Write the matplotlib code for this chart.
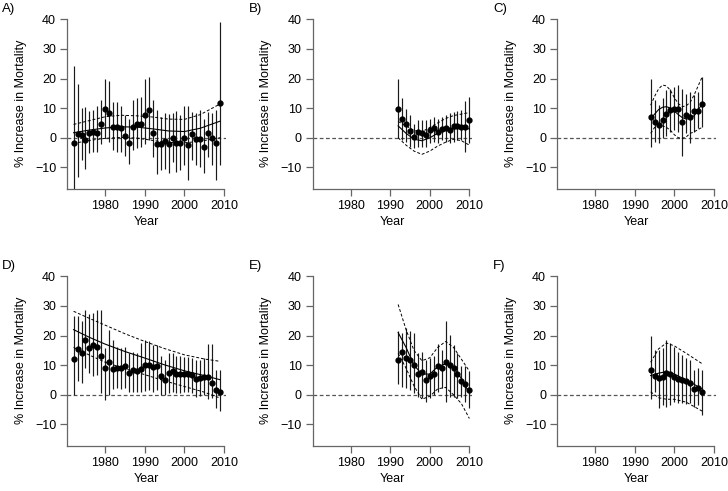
import matplotlib
matplotlib.use("Agg")
import matplotlib.pyplot as plt
import numpy as np

plt.rcParams['font.family'] = ['Liberation Sans', 'DejaVu Sans']

# ---- data ----
years_A = list(range(1972, 2010))
est_A = [-1.9, 1.1, 1.0, -0.8, 1.7, 2.0, 1.5, 4.8, 9.8, 8.4, 3.5, 3.6, 3.2, 0.6, -1.9, 3.8, 4.5, 4.5, 7.7, 9.5,
         1.7, -2.1, -2.1, -1.2, -2.0, 0.0, -1.9, -1.9, 0.0, -2.5, 1.1, -0.5, -0.5, -3.0, 1.6, 0.0, -1.9, 11.9]
hi_A = [24.2, 18.1, 9.9, 10.5, 9.0, 9.3, 10.7, 12.7, 19.7, 19.3, 12.2, 12.2, 10.7, 7.7, 6.5, 12.7, 13.3, 13.9, 19.7, 20.6,
        12.7, 9.3, 7.1, 8.4, 8.0, 8.2, 9.1, 7.7, 10.7, 10.7, 8.8, 8.2, 9.5, 6.5, 8.8, 8.2, 9.3, 39.0]
lo_A = [-20.0, -13.2, -7.5, -10.4, -5.0, -4.7, -4.7, -2.1, -0.2, -1.4, -4.2, -4.7, -4.7, -6.1, -8.7, -4.2, -3.6, -3.0, -2.1, -0.8,
        -6.4, -12.4, -10.9, -10.7, -12.0, -8.1, -11.4, -10.9, -9.2, -14.1, -7.5, -9.2, -9.8, -12.0, -6.4, -9.2, -14.3, -9.2]
fit_yr_A = [1972, 1976, 1980, 1984, 1988, 1992, 1996, 2000, 2004, 2009]
fit_A = [1.7, 2.6, 3.3, 3.7, 3.6, 3.0, 2.3, 2.1, 3.2, 5.6]
fit_hi_A = [4.5, 5.8, 7.1, 7.6, 7.4, 7.0, 6.3, 6.2, 7.8, 11.4]
fit_lo_A = [-1.9, -0.9, -0.2, 0.1, -0.1, -0.9, -1.6, -1.7, -1.2, 0.0]

years_B = list(range(1992, 2011))
est_B = [9.6, 6.5, 4.6, 2.3, 0.3, 1.8, 1.7, 0.8, 2.6, 3.2, 1.8, 3.0, 3.4, 2.7, 4.1, 4.1, 3.7, 3.8, 5.9]
hi_B = [19.8, 13.3, 9.6, 7.7, 4.8, 6.0, 6.0, 6.0, 6.5, 7.1, 6.5, 7.1, 7.7, 8.4, 8.8, 9.0, 9.3, 12.4, 13.9]
lo_B = [0.0, -0.8, -1.4, -3.0, -3.6, -3.0, -3.0, -3.0, -1.9, -1.4, -1.9, -0.8, -1.4, -1.9, -1.4, -0.8, -0.6, -4.7, -1.9]
fit_yr_B = [1992, 1994, 1996, 1998, 2000, 2002, 2004, 2006, 2008, 2010]
fit_B = [4.0, 1.5, -0.5, -1.0, 0.0, 1.5, 2.5, 3.0, 3.3, 3.0]
fit_hi_B = [5.5, 4.0, 2.5, 2.0, 3.5, 5.0, 6.5, 7.5, 8.0, 8.5]
fit_lo_B = [0.0, -2.5, -4.5, -5.6, -4.5, -2.8, -1.5, -0.5, -1.0, -2.5]

years_C = list(range(1994, 2008))
est_C = [7.0, 5.4, 4.4, 6.0, 7.9, 9.3, 9.8, 9.8, 5.2, 7.7, 6.9, 9.0, 9.1, 11.3]
hi_C = [20.0, 12.9, 11.0, 13.3, 16.1, 16.3, 17.0, 17.8, 16.3, 14.8, 15.5, 14.4, 15.5, 20.6]
lo_C = [-3.0, -1.4, -1.9, -0.2, 0.6, 2.0, 2.6, 2.0, -6.2, 1.5, -1.9, 2.0, 3.2, 3.7]
fit_yr_C = years_C
fit_C = [6.5, 8.0, 9.5, 10.3, 10.5, 10.0, 9.0, 7.8, 6.8, 6.3, 6.5, 7.5, 9.3, 11.5]
fit_hi_C = [11.0, 14.0, 16.5, 17.8, 17.5, 16.0, 13.5, 11.5, 10.5, 10.8, 12.0, 14.5, 17.5, 20.5]
fit_lo_C = [1.5, 3.5, 4.0, 4.0, 3.5, 2.5, 1.0, 0.0, -0.2, 0.3, 1.5, 2.0, 2.8, 3.5]

years_D = list(range(1972, 2010))
est_D = [12.2, 15.4, 14.1, 18.6, 15.7, 16.7, 16.3, 13.0, 9.0, 11.0, 8.8, 9.0, 9.0, 9.6, 7.5, 8.5, 7.9, 8.8, 10.1, 9.9,
         9.4, 9.8, 6.5, 5.1, 7.3, 7.9, 7.0, 7.0, 7.0, 7.0, 6.8, 5.4, 5.6, 5.9, 6.1, 3.9, 1.7, 1.1]
hi_D = [26.5, 26.5, 24.8, 28.5, 27.3, 27.6, 28.7, 28.7, 15.8, 22.0, 18.6, 16.3, 15.8, 16.3, 14.1, 14.6, 14.1, 17.5, 18.6, 18.0,
        16.9, 16.9, 13.0, 11.8, 14.1, 14.1, 13.0, 13.0, 12.6, 12.6, 12.4, 11.8, 11.8, 12.4, 17.1, 17.1, 8.5, 8.5]
lo_D = [0.0, 4.5, 3.9, 9.0, 7.3, 6.2, 6.8, 0.6, -1.7, 0.0, 2.0, 2.3, 2.0, 2.3, 1.1, 1.1, 0.9, 1.1, 1.4, 1.7,
        1.1, 1.7, -0.2, 0.0, 0.6, 1.1, 0.6, 0.6, 0.9, 0.9, 0.6, -0.6, -0.3, 0.0, -1.4, -1.1, -4.5, -5.4]
fit_yr_D = [1972, 1976, 1980, 1985, 1990, 1995, 2000, 2005, 2009]
fit_D = [22.0, 19.4, 17.1, 14.6, 12.4, 10.1, 8.1, 6.5, 5.1]
fit_hi_D = [28.2, 25.8, 23.5, 20.6, 18.0, 15.6, 13.5, 12.1, 11.3]
fit_lo_D = [16.0, 13.4, 11.0, 8.8, 6.8, 4.7, 2.8, 0.9, -1.1]

years_E = list(range(1992, 2011))
est_E = [11.8, 14.6, 12.3, 11.6, 10.1, 7.1, 7.8, 5.1, 6.4, 7.0, 9.6, 9.2, 11.0, 9.9, 9.0, 7.1, 4.5, 3.6, 1.5]
hi_E = [21.4, 20.8, 22.5, 21.4, 20.8, 14.1, 14.6, 11.8, 12.4, 13.0, 17.1, 15.2, 24.8, 20.3, 16.9, 14.1, 9.6, 9.6, 8.1]
lo_E = [3.6, 2.8, 2.3, 1.7, 0.6, -0.6, -1.1, -2.3, -1.1, 0.0, 1.1, 2.3, -2.3, -0.6, -0.6, -1.1, -0.6, -2.3, -4.5]
fit_yr_E = [1992, 1994, 1996, 1998, 2000, 2002, 2004, 2006, 2008, 2010]
fit_E = [21.0, 16.0, 10.0, 7.0, 7.0, 9.5, 10.5, 9.0, 5.5, 0.5]
fit_hi_E = [30.5, 22.0, 15.0, 11.5, 12.5, 16.0, 18.0, 16.0, 12.0, 8.0]
fit_lo_E = [14.0, 9.0, 3.0, -1.5, -0.5, 2.0, 2.5, 0.0, -3.0, -8.0]

years_F = list(range(1994, 2008))
est_F = [8.3, 6.2, 5.6, 5.9, 7.5, 6.9, 5.9, 5.3, 5.0, 4.5, 3.9, 2.0, 2.3, 0.9]
hi_F = [19.7, 15.2, 15.2, 15.8, 18.6, 17.5, 16.3, 14.6, 13.5, 12.4, 11.8, 8.5, 9.0, 8.5]
lo_F = [-1.5, 1.1, -4.3, -3.4, -4.0, -3.4, -2.3, -2.8, -2.8, -3.2, -2.8, -4.0, -3.4, -6.8]
fit_yr_F = [1994, 1996, 1998, 2000, 2003, 2007]
fit_F = [6.5, 7.3, 7.8, 7.0, 5.0, 2.0]
fit_hi_F = [11.0, 15.5, 17.5, 16.5, 14.0, 10.5]
fit_lo_F = [1.0, -1.0, -1.5, -1.5, -2.5, -5.5]

panels = [
    ("A)", years_A, est_A, lo_A, hi_A, fit_yr_A, fit_A, fit_lo_A, fit_hi_A),
    ("B)", years_B, est_B, lo_B, hi_B, fit_yr_B, fit_B, fit_lo_B, fit_hi_B),
    ("C)", years_C, est_C, lo_C, hi_C, fit_yr_C, fit_C, fit_lo_C, fit_hi_C),
    ("D)", years_D, est_D, lo_D, hi_D, fit_yr_D, fit_D, fit_lo_D, fit_hi_D),
    ("E)", years_E, est_E, lo_E, hi_E, fit_yr_E, fit_E, fit_lo_E, fit_hi_E),
    ("F)", years_F, est_F, lo_F, hi_F, fit_yr_F, fit_F, fit_lo_F, fit_hi_F),
]

fig = plt.figure(figsize=(7.28, 4.91), dpi=100)
lefts = [0.0924, 0.4295, 0.7655]
bottoms = [0.6151, 0.0916]
w, h = 0.2185, 0.3486
axis_col = '#666666'

for k, (lab, yrs, est, lo, hi, fyr, fit, flo, fhi) in enumerate(panels):
    r, c = divmod(k, 3)
    ax = fig.add_axes([lefts[c], bottoms[r], w, h])
    ax.axhline(0, ls=(0, (3, 2)), color='#555555', lw=0.9, zorder=1)
    ax.vlines(yrs, lo, hi, color='#1a1a1a', lw=0.85, zorder=2)
    ax.plot(yrs, est, 'o', color='black', ms=3.5, zorder=3)
    ax.plot(fyr, fit, '-', color='black', lw=0.8, zorder=2)
    ax.plot(fyr, fhi, ls=(0, (3, 2)), color='black', lw=0.7, zorder=2)
    ax.plot(fyr, flo, ls=(0, (3, 2)), color='black', lw=0.7, zorder=2)

    ax.set_xlim(1970.4, 2010.6)
    ax.set_ylim(-17.3, 40.5)
    ax.set_xticks([1980, 1990, 2000, 2010])
    ax.set_yticks([-10, 0, 10, 20, 30, 40])
    ax.set_yticklabels(['\u221210', '0', '10', '20', '30', '40'])
    for s in ['top', 'right']:
        ax.spines[s].set_visible(False)
    ax.spines['left'].set_bounds(-17.3, 40)
    ax.spines['bottom'].set_bounds(1970.4, 2010)
    for s in ['left', 'bottom']:
        ax.spines[s].set_color(axis_col)
        ax.spines[s].set_linewidth(0.9)
    ax.tick_params(length=5, width=0.9, color=axis_col, labelsize=9, pad=3)
    ax.set_xlabel('Year', fontsize=9, labelpad=3)
    ax.set_ylabel('% Increase in Mortality', fontsize=9, labelpad=6)
    ax.patch.set_visible(False)
    fig.text(lefts[c] - 0.09 if c == 0 else lefts[c] - 0.088, bottoms[r] + h + 0.018, lab,
             fontsize=9.5, ha='left', va='center')

fig.savefig('out.png', dpi=100)
